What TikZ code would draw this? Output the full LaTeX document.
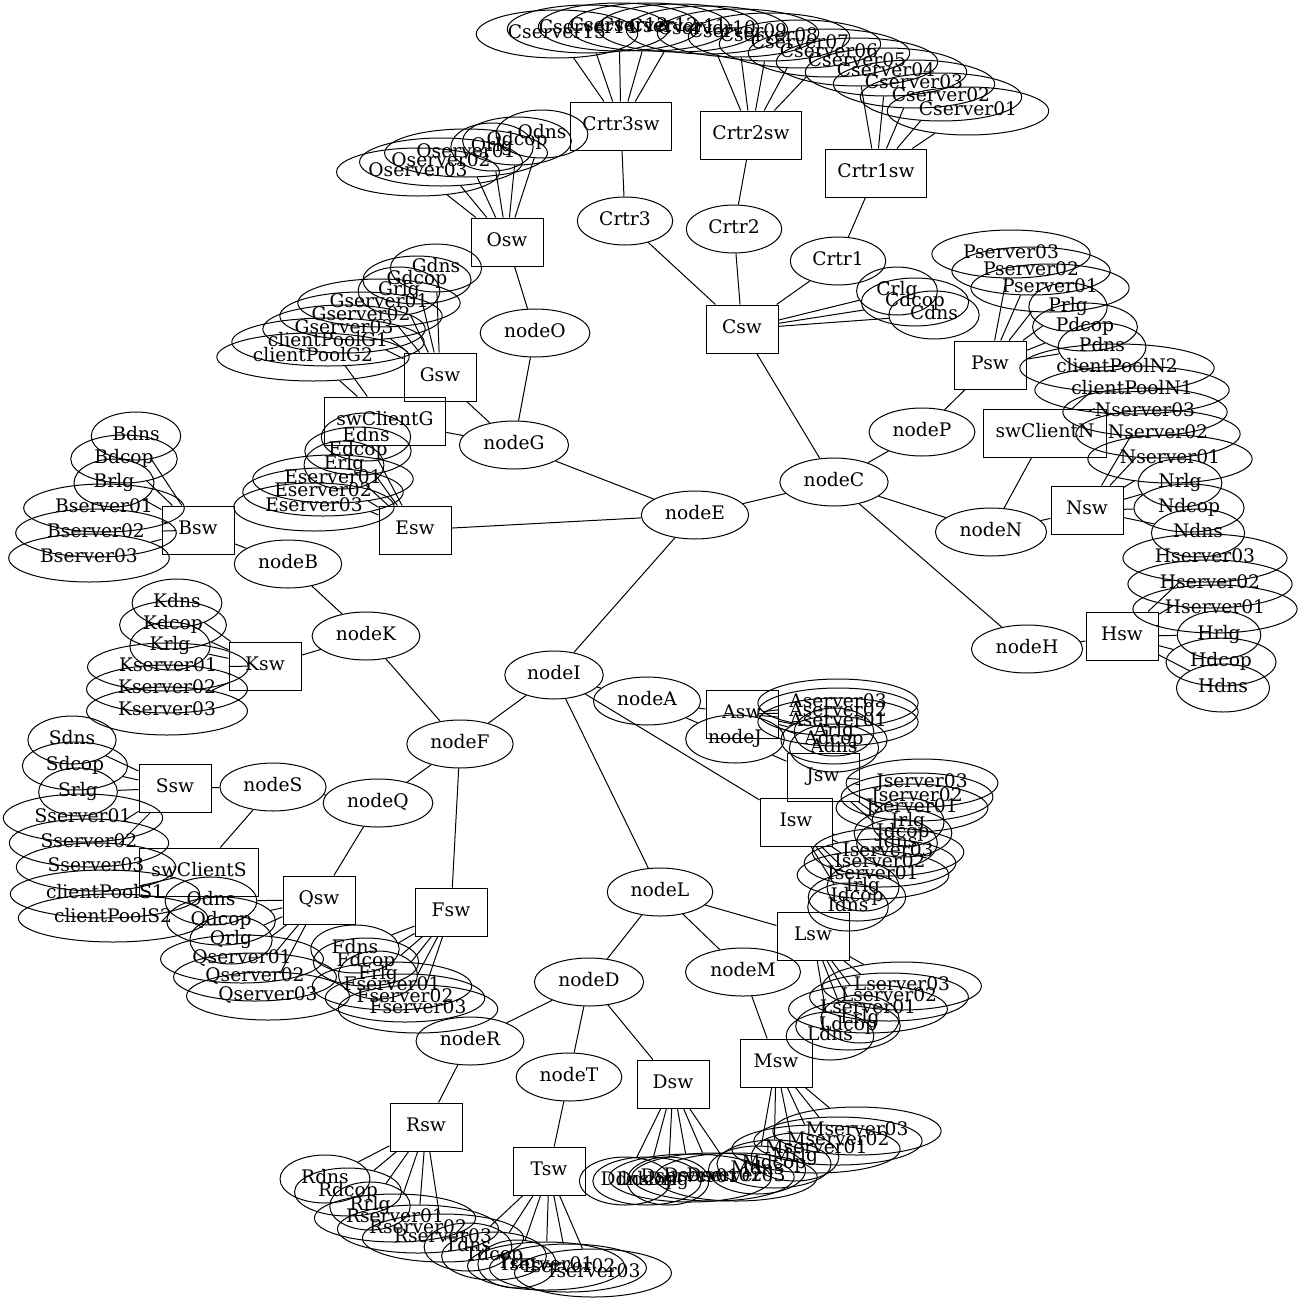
\documentclass[tikz,border=0pt]{standalone}
\usepackage{fontspec}
\setmainfont{DejaVu Serif}
\usetikzlibrary{shapes.geometric}
\begin{document}
\begin{tikzpicture}[x=1pt,y=-1pt,
  every node/.style={font=\fontsize{18.67pt}{22pt}\selectfont, text height=13.5pt, text depth=4pt},
  lf/.style={ellipse, draw, line width=1pt, inner xsep=8pt, inner ysep=1pt, minimum height=48pt, minimum width=72pt},
  sw/.style={rectangle, draw, line width=1pt, inner xsep=12pt, minimum width=72pt, minimum height=48pt},
  every path/.style={line width=1pt}]
\useasboundingbox (0,0) rectangle (1301,1304);

% ---- core tree ----
\node[lf] (nodeE) at (695,515) {nodeE};
\node[lf] (nodeC) at (834,482) {nodeC};
\node[lf] (nodeG) at (514,445) {nodeG};
\node[lf] (nodeO) at (535,333) {nodeO};
\node[lf] (nodeI) at (554,675) {nodeI};
\node[lf] (nodeA) at (647,701) {nodeA};
\node[lf] (nodeJ) at (735,739) {nodeJ};
\node[lf] (nodeF) at (460,744) {nodeF};
\node[lf] (nodeK) at (366,636) {nodeK};
\node[lf] (nodeB) at (288,564) {nodeB};
\node[lf] (nodeQ) at (378,803) {nodeQ};
\node[lf] (nodeS) at (273,787) {nodeS};
\node[lf] (nodeL) at (660,892) {nodeL};
\node[lf] (nodeM) at (743,972) {nodeM};
\node[lf] (nodeD) at (589,982) {nodeD};
\node[lf] (nodeR) at (470,1041) {nodeR};
\node[lf] (nodeT) at (569,1077) {nodeT};
\node[lf] (nodeP) at (922,432) {nodeP};
\node[lf] (nodeN) at (991,532) {nodeN};
\node[lf] (nodeH) at (1027,649) {nodeH};
\node[lf] (Crtr3) at (625,221) {Crtr3};
\node[lf] (Crtr2) at (734,229) {Crtr2};
\node[lf] (Crtr1) at (838,261) {Crtr1};

% ---- switches ----
\node[sw] (Csw) at (742,329) {Csw};
\node[sw] (Crtr3sw) at (621,126) {Crtr3sw};
\node[sw] (Crtr2sw) at (751,135) {Crtr2sw};
\node[sw] (Crtr1sw) at (876,173) {Crtr1sw};
\node[sw] (Osw) at (507,242) {Osw};
\node[sw] (Gsw) at (440,377) {Gsw};
\node[sw] (swClientG) at (385,421) {swClientG};
\node[sw] (Esw) at (415,530) {Esw};
\node[sw] (Bsw) at (198,530) {Bsw};
\node[sw] (Ksw) at (265,666) {Ksw};
\node[sw] (Ssw) at (175,788) {Ssw};
\node[sw] (swClientS) at (199,872) {swClientS};
\node[sw] (Qsw) at (319,900) {Qsw};
\node[sw] (Fsw) at (451,912) {Fsw};
\node[sw] (Rsw) at (426,1127) {Rsw};
\node[sw] (Tsw) at (549,1171) {Tsw};
\node[sw] (Dsw) at (673,1084) {Dsw};
\node[sw] (Msw) at (776,1063) {Msw};
\node[sw] (Lsw) at (813,936) {Lsw};
\node[sw] (Isw) at (796,822) {Isw};
\node[sw] (Jsw) at (823,777) {Jsw};
\node[sw] (Asw) at (742,714) {Asw};
\node[sw] (Psw) at (990,365) {Psw};
\node[sw] (swClientN) at (1045,433) {swClientN};
\node[sw] (Nsw) at (1087,510) {Nsw};
\node[sw] (Hsw) at (1122,636) {Hsw};

% ---- hosts ----
\foreach \n/\x/\y in {Cserver01/968/111,Cserver02/941/97,Cserver03/914/84,Cserver04/886/72,Cserver05/857/62,
  Cserver06/829/53,Cserver07/800/44,Cserver08/769/37,Cserver09/738/33,Cserver10/707/30,
  Cserver11/678/28,Cserver12/649/27,Cserver13/619/27,Cserver14/588/29,Cserver15/557/34,
  Crlg/897/291,Cdcop/915/302,Cdns/934/315,
  Odns/542/134,Odcop/517/141,Orlg/492/147,Oserver01/466/153,Oserver02/441/162,Oserver03/418/172,
  Gdns/436/268,Gdcop/417/280,Grlg/399/291,Gserver01/379/303,Gserver02/361/316,Gserver03/344/329,
  clientPoolG1/328/342,clientPoolG2/313/357,
  Edns/366/437,Edcop/358/451,Erlg/344/465,Eserver01/333/479,Eserver02/323/492,Eserver03/314/507,
  Bdns/136/436,Bdcop/124/459,Brlg/114/483,Bserver01/104/508,Bserver02/96/533,Bserver03/89/558,
  Kdns/177/603,Kdcop/173/625,Krlg/170/646,Kserver01/168/667,Kserver02/167/689,Kserver03/167/711,
  Sdns/72/740,Sdcop/75/766,Srlg/78/792,Sserver01/83/818,Sserver02/89/843,Sserver03/96/867,
  clientPoolS1/105/894,clientPoolS2/113/918,
  Qdns/211/901,Qdcop/221/921,Qrlg/231/940,Qserver01/242/959,Qserver02/255/977,Qserver03/268/996,
  Fdns/355/949,Fdcop/366/962,Frlg/378/975,Fserver01/392/986,Fserver02/405/998,Fserver03/418/1009,
  Rdns/325/1179,Rdcop/348/1192,Rrlg/370/1206,Rserver01/395/1218,Rserver02/418/1229,Rserver03/443/1238,
  Tdns/468/1247,Tdcop/494/1256,Trlg/517/1264,Tserver01/546/1266,Tserver02/568/1268,Tserver03/593/1273,
  Ddns/625/1181,Ddcop/647/1181,Drlg/668/1181,Dserver01/690/1178,Dserver02/713/1177,Dserver03/736/1177,
  Mdns/757/1170,Mdcop/774/1164,Mrlg/795/1157,Mserver01/816/1149,Mserver02/838/1141,Mserver03/857/1131,
  Ldns/830/1036,Ldcop/848/1026,Lrlg/860/1019,Lserver01/868/1009,Lserver02/889/997,Lserver03/902/986,
  Idns/848/907,Idcop/857/897,Irlg/863/887,Iserver01/873/875,Iserver02/880/863,Iserver03/888/852,
  Jdns/897/843,Jdcop/903/833,Jrlg/908/822,Jserver01/912/808,Jserver02/917/797,Jserver03/922/783,
  Adns/834/748,Adcop/834/740,Arlg/834/732,Aserver01/838/722,Aserver02/838/712,Aserver03/838/703,
  Pserver03/1011/254,Pserver02/1031/271,Pserver01/1050/288,Prlg/1068/307,Pdcop/1085/327,Pdns/1102/347,
  clientPoolN2/1117/368,clientPoolN1/1132/390,
  Nserver03/1145/412,Nserver02/1158/434,Nserver01/1170/459,Nrlg/1180/483,Ndcop/1189/508,Ndns/1198/533,
  Hserver03/1205/558,Hserver02/1210/584,Hserver01/1215/609,Hrlg/1219/635,Hdcop/1221/662,Hdns/1223/688}
  \node[lf] (\n) at (\x,\y) {\n};

% ---- core links ----
\draw (nodeE) -- (nodeG);
\draw (nodeE) -- (Esw);
\draw (nodeE) -- (nodeC);
\draw (nodeE) -- (nodeI);
\draw (nodeG) -- (nodeO);
\draw (nodeG) -- (Gsw);
\draw (nodeG) -- (swClientG);
\draw (nodeO) -- (Osw);
\draw (nodeC) -- (Csw);
\draw (nodeC) -- (nodeP);
\draw (nodeC) -- (nodeN);
\draw (nodeC) -- (nodeH);
\draw (nodeP) -- (Psw);
\draw (nodeN) -- (swClientN);
\draw (nodeN) -- (Nsw);
\draw (nodeH) -- (Hsw);
\draw (Csw) -- (Crtr3);
\draw (Csw) -- (Crtr2);
\draw (Csw) -- (Crtr1);
\draw (Crtr3) -- (Crtr3sw);
\draw (Crtr2) -- (Crtr2sw);
\draw (Crtr1) -- (Crtr1sw);
\draw (nodeI) -- (nodeF);
\draw (nodeI) -- (nodeL);
\draw (nodeI) -- (Isw);
\draw (nodeI) -- (nodeA);
\draw (nodeA) -- (nodeJ);
\draw (nodeA) -- (Asw);
\draw (nodeJ) -- (Jsw);
\draw (nodeF) -- (nodeK);
\draw (nodeF) -- (nodeQ);
\draw (nodeF) -- (Fsw);
\draw (nodeK) -- (nodeB);
\draw (nodeK) -- (Ksw);
\draw (nodeB) -- (Bsw);
\draw (nodeQ) -- (nodeS);
\draw (nodeQ) -- (Qsw);
\draw (nodeS) -- (Ssw);
\draw (nodeS) -- (swClientS);
\draw (nodeL) -- (nodeD);
\draw (nodeL) -- (nodeM);
\draw (nodeL) -- (Lsw);
\draw (nodeD) -- (nodeR);
\draw (nodeD) -- (nodeT);
\draw (nodeD) -- (Dsw);
\draw (nodeM) -- (Msw);
\draw (nodeR) -- (Rsw);
\draw (nodeT) -- (Tsw);

% ---- access links ----
\foreach \n in {Cserver01,Cserver02,Cserver03,Cserver04,Cserver05} \draw (Crtr1sw) -- (\n);
\foreach \n in {Cserver06,Cserver07,Cserver08,Cserver09,Cserver10} \draw (Crtr2sw) -- (\n);
\foreach \n in {Cserver11,Cserver12,Cserver13,Cserver14,Cserver15} \draw (Crtr3sw) -- (\n);
\foreach \n in {Crlg,Cdcop,Cdns} \draw (Csw) -- (\n);
\foreach \s in {O,G,E,B,K,S,Q,F,R,T,D,M,L,I,J,A,P,N,H}
  \foreach \n in {dns,dcop,rlg,server01,server02,server03} \draw (\s sw) -- (\s\n);
\foreach \n in {clientPoolG1,clientPoolG2} \draw (swClientG) -- (\n);
\foreach \n in {clientPoolS1,clientPoolS2} \draw (swClientS) -- (\n);
\foreach \n in {clientPoolN1,clientPoolN2} \draw (swClientN) -- (\n);
\end{tikzpicture}
\end{document}
